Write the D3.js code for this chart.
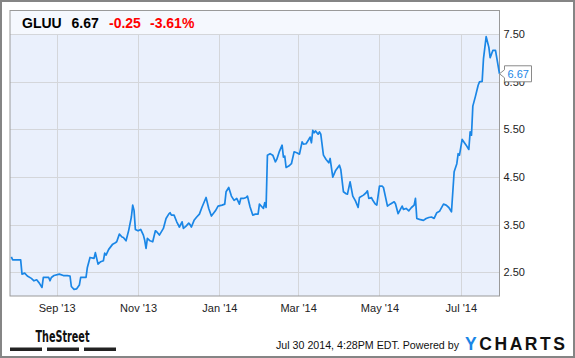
<!DOCTYPE html>
<html><head><meta charset="utf-8">
<script src="https://cdn.jsdelivr.net/npm/d3@7"></script>
<style>html,body{margin:0;padding:0;background:#fff;}svg{display:block;font-family:"Liberation Sans",Arial,sans-serif;}</style>
</head><body>
<script>
const ticker = "GLUU";
const lastPrice = "6.67";
const change = "-0.25";
const changePct = "-3.61%";
const startDate = "2013-07-28";
const endDate = "2014-07-30";
const dayOffsets = [1,2,8,9,11,13,16,18,20,22,24,25,29,30,31,33,37,40,43,45,46,48,50,52,53,57,58,60,63,64,66,68,70,71,72,74,77,79,80,82,84,85,87,89,91,92,93,94,96,98,100,101,102,103,105,107,109,110,112,115,117,119,120,121,123,125,127,129,130,132,134,135,136,138,140,142,144,147,149,151,154,156,159,161,162,164,166,168,170,172,173,175,177,178,180,182,184,186,187,189,190,191,192,193,195,197,199,200,202,204,205,206,207,209,211,213,215,217,219,220,222,224,225,226,227,228,229,231,232,233,235,237,239,240,242,244,247,248,250,252,253,255,257,259,261,262,265,267,268,269,271,272,274,275,277,279,280,283,285,288,289,291,294,295,297,299,301,303,304,305,307,310,312,314,316,318,320,322,325,327,329,331,333,335,336,337,339,342,344,345,346,347,349,351,352,354,355,357,359,360,362,364,367];
const prices = [2.82,2.76,2.76,2.46,2.48,2.42,2.37,2.32,2.34,2.27,2.18,2.39,2.39,2.32,2.39,2.43,2.46,2.43,2.43,2.42,
2.20,2.14,2.15,2.23,2.39,2.39,2.60,2.81,2.79,2.91,
2.67,2.72,2.74,2.90,2.86,2.98,3.09,3.12,3.14,3.30,
3.24,3.23,3.16,3.38,3.66,3.91,3.80,3.40,3.37,3.40,
3.28,3.17,3.00,3.21,3.16,3.14,3.37,3.35,3.28,3.42,
3.63,3.72,3.75,3.70,3.70,3.56,3.45,3.56,3.42,3.47,
3.53,3.50,3.45,3.59,3.66,3.72,3.87,4.07,3.84,3.68,
3.79,3.89,3.91,3.93,4.19,4.28,4.10,4.01,4.05,3.93,
4.05,4.05,4.07,4.10,3.87,3.70,3.72,3.72,3.93,3.87,
3.84,3.96,3.86,4.96,4.99,4.96,4.82,4.87,5.04,5.17,
4.92,4.94,4.70,4.73,4.78,5.03,5.01,4.98,5.24,5.19,
5.20,5.29,5.34,5.22,5.48,5.43,5.47,5.40,5.45,5.40,
4.96,4.87,4.80,4.89,4.50,4.63,4.75,4.66,4.19,4.15,
4.14,4.40,4.10,4.00,3.86,4.07,4.12,4.17,4.21,4.05,
4.07,4.01,3.93,3.91,4.31,4.31,4.28,3.89,3.93,3.98,
3.94,3.73,3.89,3.82,3.84,3.79,3.86,3.91,4.05,3.63,
3.61,3.59,3.63,3.65,3.66,3.63,3.75,3.78,3.93,3.91,
3.86,3.77,4.61,4.78,4.99,4.96,5.29,5.17,5.08,5.45,
5.38,5.99,6.20,6.43,6.50,6.51,6.99,7.45,7.23,7.01,
7.16,7.16,6.67];
const yTicks = [2.5,3.5,4.5,5.5,6.5,7.5];
const xTickDates = ["2013-09-01","2013-11-01","2014-01-01","2014-03-01","2014-05-01","2014-07-01"];
const xTickLabels = ["Sep '13","Nov '13","Jan '14","Mar '14","May '14","Jul '14"];
const timestamp = "Jul 30 2014, 4:28PM EDT.  Powered by";

const W = 575, H = 358;
const L = 10, R = 499.5, T = 10.5, B = 296, headerB = 35;
const parse = d3.utcParse("%Y-%m-%d");
const t0 = parse(startDate);
const data = dayOffsets.map((d,i)=>({date:d3.utcDay.offset(t0,d), v:prices[i]}));

const x = d3.scaleUtc().domain([t0, parse(endDate)]).range([L, R]);
const y = d3.scaleLinear().domain([2, 8]).range([B, T]);

const svg = d3.select("body").append("svg").attr("width", W).attr("height", H);
svg.append("rect").attr("x",1).attr("y",1).attr("width",W-2).attr("height",H-2)
  .attr("fill","#fff").attr("stroke","#858585").attr("stroke-width",2);

// plot background
svg.append("rect").attr("x",L).attr("y",T).attr("width",R-L).attr("height",B-T).attr("fill","#eaf0fc");
svg.append("rect").attr("x",L).attr("y",T).attr("width",R-L).attr("height",headerB-T).attr("fill","#f5f8fe");

// grid
const g = svg.append("g");
g.selectAll(".hg").data(yTicks).join("line")
  .attr("x1",L).attr("x2",R).attr("y1",d=>Math.round(y(d))+0.5).attr("y2",d=>Math.round(y(d))+0.5)
  .attr("stroke","#d4d6da").attr("stroke-width",1);
g.selectAll(".vg").data(xTickDates).join("line")
  .attr("x1",d=>Math.round(x(parse(d)))+0.5).attr("x2",d=>Math.round(x(parse(d)))+0.5)
  .attr("y1",headerB).attr("y2",B)
  .attr("stroke","#d4d6da").attr("stroke-width",1);

// plot border
svg.append("rect").attr("x",L).attr("y",T).attr("width",R-L).attr("height",B-T)
  .attr("fill","none").attr("stroke","#9a9a9a").attr("stroke-width",1);

// line
svg.append("path").datum(data)
  .attr("d", d3.line().x(d=>x(d.date)).y(d=>y(d.v)))
  .attr("fill","none").attr("stroke","#1a86e6").attr("stroke-width",1.7)
  .attr("stroke-linejoin","round");

// y axis labels (right)
const yAxis = d3.axisRight(y).tickValues(yTicks).tickFormat(d3.format(".2f")).tickSize(0).tickPadding(4);
const ya = svg.append("g").attr("transform",`translate(${R},0)`).call(yAxis);
ya.select(".domain").remove();
ya.selectAll("text").attr("font-size","11px").attr("fill","#222").attr("font-family","Liberation Sans, Arial, sans-serif");

// x axis labels
const xAxis = d3.axisBottom(x).tickValues(xTickDates.map(parse)).tickFormat((d,i)=>xTickLabels[i]).tickSize(0).tickPadding(8);
const xa = svg.append("g").attr("transform",`translate(0,${B})`).call(xAxis);
xa.select(".domain").remove();
xa.selectAll("text").attr("font-size","11px").attr("fill","#222").attr("font-family","Liberation Sans, Arial, sans-serif");

// last price callout
const last = data[data.length-1];
const cx = x(last.date), cy = y(last.v);
svg.append("path")
  .attr("d",`M${cx},${cy} L${cx+5},${cy-4} L${cx+5},${cy-8} L${cx+32},${cy-8} L${cx+32},${cy+8} L${cx+5},${cy+8} L${cx+5},${cy+4} Z`)
  .attr("fill","#fff").attr("stroke","#8a8a8a").attr("stroke-width",1);
svg.append("text").attr("x",cx+8).attr("y",cy+4).attr("font-size","11px").attr("fill","#1a86e6").text(last.v.toFixed(2));

// header
const hdr = svg.append("g").attr("font-size","14px").attr("font-weight","bold");
hdr.append("text").attr("x",22).attr("y",28).attr("fill","#000").text(ticker);
hdr.append("text").attr("x",71.5).attr("y",28).attr("fill","#000").text(lastPrice);
hdr.append("text").attr("x",109).attr("y",28).attr("fill","#f00").text(change);
hdr.append("text").attr("x",150).attr("y",28).attr("fill","#f00").text(changePct);

// footer
svg.append("text").attr("x",35.5).attr("y",341.5).attr("font-size","15px").attr("font-weight","bold")
  .attr("font-family","Liberation Sans Narrow, DejaVu Sans Condensed, sans-serif")
  .attr("textLength",54).attr("lengthAdjust","spacingAndGlyphs").attr("fill","#111").text("TheStreet");
[[10,42],[47,79],[84,116]].forEach(([a,b])=>{
  svg.append("rect").attr("x",a).attr("y",347.5).attr("width",b-a).attr("height",3.5).attr("fill","#222");
});
svg.append("text").attr("x",276).attr("y",348.5).attr("font-size","11px").attr("fill","#111")
  .attr("textLength",183).attr("lengthAdjust","spacingAndGlyphs").text(timestamp);
const yc = svg.append("text").attr("x",465).attr("y",350).attr("font-size","17.5px").attr("font-weight","bold")
  .attr("textLength",100).attr("lengthAdjust","spacing");
yc.append("tspan").attr("fill","#1a86e6").text("Y");
yc.append("tspan").attr("fill","#111").text("CHARTS");
</script>
</body></html>
